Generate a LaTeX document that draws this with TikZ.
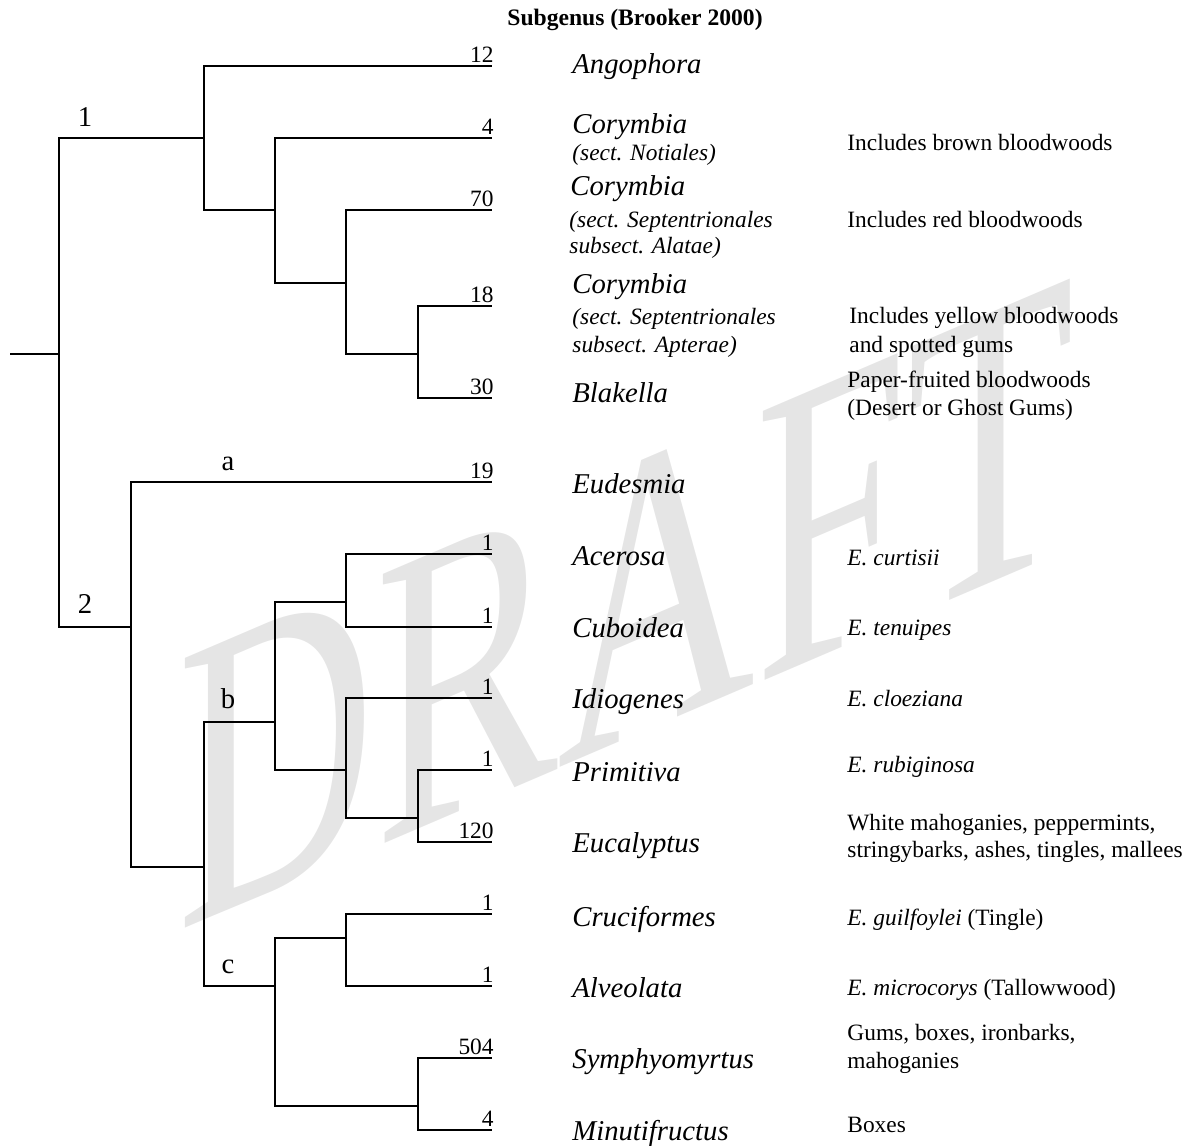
\documentclass[tikz,border=0pt]{standalone}
\usepackage{fontspec}
\setmainfont{Liberation Serif}
\definecolor{wmgray}{RGB}{229,229,229}

\begin{document}
\begin{tikzpicture}[x=0.5pt,y=-0.5pt,
  branch/.style={line width=1pt, line join=miter},
  genus/.style={anchor=base west, inner sep=0, font=\fontsize{14.35}{16}\selectfont\itshape},
  sect/.style={anchor=base west, inner sep=0, font=\fontsize{11.7}{14}\selectfont\itshape},
  note/.style={anchor=base west, inner sep=0, font=\fontsize{11.7}{14}\selectfont},
  count/.style={anchor=base east, inner sep=0, font=\fontsize{11.7}{14}\selectfont},
  clade/.style={anchor=base, inner sep=0, font=\fontsize{14.35}{16}\selectfont},
]
\useasboundingbox (0,0) rectangle (1196,1146);

% watermark, condensed and sheared upwards
\begin{scope}[shift={(177,932)}]
  \node[anchor=base west, inner sep=0, text=wmgray,
        font=\fontsize{206}{206}\selectfont,
        cm={0.665,0.285,0,1,(0,0)}, transform shape] (wm) at (0,0) {DRAFT};
\end{scope}

% title
\node[anchor=base west, inner sep=0, font=\fontsize{11.8}{14}\selectfont\bfseries] (title) at (507,25) {Subgenus (Brooker 2000)};

% internal nodes of the tree
\coordinate (stem) at (10,354);
\coordinate (root) at (59,354);
\coordinate (c1) at (204,138);
\coordinate (c2) at (131,627);
\coordinate (n11) at (275,210);
\coordinate (n12) at (346,283);
\coordinate (n13) at (418,354);
\coordinate (n21) at (204,867);
\coordinate (cb) at (275,722);
\coordinate (cc) at (275,986);
\coordinate (nb1) at (346,602);
\coordinate (nb2) at (346,770);
\coordinate (nb3) at (418,818);
\coordinate (nc1) at (346,938);
\coordinate (nc2) at (418,1106);

% leaf tips
\coordinate (t1) at (492,66);
\coordinate (t2) at (492,138);
\coordinate (t3) at (492,210);
\coordinate (t4) at (492,306);
\coordinate (t5) at (492,398);
\coordinate (t6) at (492,482);
\coordinate (t7) at (492,554);
\coordinate (t8) at (492,627);
\coordinate (t9) at (492,698);
\coordinate (t10) at (492,770);
\coordinate (t11) at (492,842);
\coordinate (t12) at (492,914);
\coordinate (t13) at (492,986);
\coordinate (t14) at (492,1058);
\coordinate (t15) at (492,1130);

% branches
\draw[branch] (stem) -- (root);
\draw[branch] (root) |- (c1);
\draw[branch] (root) |- (c2);
\draw[branch] (c1) |- (t1);
\draw[branch] (c1) |- (n11);
\draw[branch] (n11) |- (t2);
\draw[branch] (n11) |- (n12);
\draw[branch] (n12) |- (t3);
\draw[branch] (n12) |- (n13);
\draw[branch] (n13) |- (t4);
\draw[branch] (n13) |- (t5);
\draw[branch] (c2) |- (t6);
\draw[branch] (c2) |- (n21);
\draw[branch] (n21) |- (cb);
\draw[branch] (n21) |- (cc);
\draw[branch] (cb) |- (nb1);
\draw[branch] (cb) |- (nb2);
\draw[branch] (nb1) |- (t7);
\draw[branch] (nb1) |- (t8);
\draw[branch] (nb2) |- (t9);
\draw[branch] (nb2) |- (nb3);
\draw[branch] (nb3) |- (t10);
\draw[branch] (nb3) |- (t11);
\draw[branch] (cc) |- (nc1);
\draw[branch] (cc) |- (nc2);
\draw[branch] (nc1) |- (t12);
\draw[branch] (nc1) |- (t13);
\draw[branch] (nc2) |- (t14);
\draw[branch] (nc2) |- (t15);

% clade labels
\node[clade] (l1) at (85,126) {1};
\node[clade] (l2) at (85,613) {2};
\node[clade] (la) at (228,470) {a};
\node[clade] (lb) at (228,708) {b};
\node[clade] (lc) at (228,973) {c};

% species counts
\node[count] (k1) at (494,62) {12};
\node[count] (k2) at (494,134) {4};
\node[count] (k3) at (494,206) {70};
\node[count] (k4) at (494,302) {18};
\node[count] (k5) at (494,394) {30};
\node[count] (k6) at (494,478) {19};
\node[count] (k7) at (494,550) {1};
\node[count] (k8) at (494,623) {1};
\node[count] (k9) at (494,694) {1};
\node[count] (k10) at (494,766) {1};
\node[count] (k11) at (494,838) {120};
\node[count] (k12) at (494,910) {1};
\node[count] (k13) at (494,982) {1};
\node[count] (k14) at (494,1054) {504};
\node[count] (k15) at (494,1126) {4};

% subgenus names
\node[genus] (g1) at (572,73) {Angophora};
\node[genus] (g2) at (572,133) {Corymbia};
\node[sect] (g2s) at (572,160) {(sect. Notiales)};
\node[genus] (g3) at (570,195) {Corymbia};
\node[sect] (g3s) at (569,227) {(sect. Septentrionales};
\node[sect] (g3t) at (569,253) {subsect. Alatae)};
\node[genus] (g4) at (572,293) {Corymbia};
\node[sect] (g4s) at (572,324) {(sect. Septentrionales};
\node[sect] (g4t) at (572,352) {subsect. Apterae)};
\node[genus] (g5) at (572,402) {Blakella};
\node[genus] (g6) at (572,493) {Eudesmia};
\node[genus] (g7) at (572,565) {Acerosa};
\node[genus] (g8) at (572,637) {Cuboidea};
\node[genus] (g9) at (572,708) {Idiogenes};
\node[genus] (g10) at (572,781) {Primitiva};
\node[genus] (g11) at (572,852) {Eucalyptus};
\node[genus] (g12) at (572,926) {Cruciformes};
\node[genus] (g13) at (572,997) {Alveolata};
\node[genus] (g14) at (572,1068) {Symphyomyrtus};
\node[genus] (g15) at (572,1140) {Minutifructus};

% notes on members
\node[note] (d2) at (847,150) {Includes brown bloodwoods};
\node[note] (d3) at (847,227) {Includes red bloodwoods};
\node[note] (d4) at (849,323) {Includes yellow bloodwoods};
\node[note] (d4b) at (849,352) {and spotted gums};
\node[note] (d5) at (847,387) {Paper-fruited bloodwoods};
\node[note] (d5b) at (847,415) {(Desert or Ghost Gums)};
\node[note] (d7) at (847,565) {\textit{E. curtisii}};
\node[note] (d8) at (847,635) {\textit{E. tenuipes}};
\node[note] (d9) at (847,706) {\textit{E. cloeziana}};
\node[note] (d10) at (847,772) {\textit{E. rubiginosa}};
\node[note] (d11) at (847,830) {White mahoganies, peppermints,};
\node[note] (d11b) at (847,857) {stringybarks, ashes, tingles, mallees};
\node[note] (d12) at (847,925) {\textit{E. guilfoylei} (Tingle)};
\node[note] (d13) at (847,995) {\textit{E. microcorys} (Tallowwood)};
\node[note] (d14) at (847,1040) {Gums, boxes, ironbarks,};
\node[note] (d14b) at (847,1068) {mahoganies};
\node[note] (d15) at (847,1132) {Boxes};
\end{tikzpicture}
\end{document}
